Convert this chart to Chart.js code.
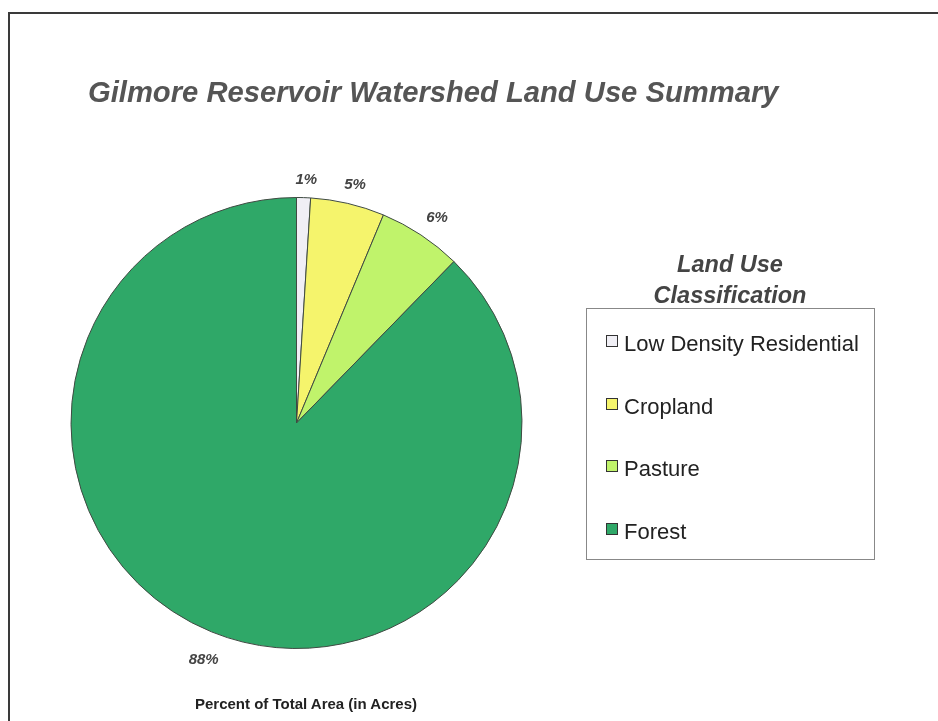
<!DOCTYPE html>
<html>
<head>
<meta charset="utf-8">
<title>Gilmore Reservoir Watershed Land Use Summary</title>
<script src="https://cdn.jsdelivr.net/npm/chart.js@4/dist/chart.umd.min.js"></script>
<style>
  html, body { margin: 0; padding: 0; background: #fff; }
  body { width: 938px; height: 721px; position: relative; overflow: hidden; font-family: "Liberation Sans", Arial, sans-serif; }
  #frame { position: absolute; left: 8px; top: 12px; width: 940px; height: 720px; border-top: 2px solid #3a3a3a; border-left: 2px solid #3a3a3a; }
  #chart_wrap { position: absolute; left: 0; top: 0; width: 938px; height: 721px; }
  #title { position: absolute; left: 88px; top: 76px; font-size: 29.2px; font-weight: bold; font-style: italic; color: #555; white-space: nowrap; }
  #legend_title { position: absolute; left: 600px; top: 249px; width: 260px; text-align: center; font-size: 23.5px; font-weight: bold; font-style: italic; color: #444; line-height: 31px; }
  #legend { position: absolute; left: 586px; top: 308px; width: 289px; height: 252px; border: 1px solid #888; box-sizing: border-box; }
  .item { position: absolute; left: 19px; font-size: 22px; color: #222; white-space: nowrap; }
  .item span.box { display: inline-block; width: 10px; height: 10px; border: 1.5px solid #333; margin-right: 6px; vertical-align: 4px; }
  #subtitle { position: absolute; left: 0; width: 612px; top: 695px; text-align: center; font-size: 15px; font-weight: bold; color: #222; }
</style>
</head>
<body>
<div id="frame"></div>
<div id="chart_wrap"><canvas id="chart_landuse" width="938" height="721"></canvas></div>
<div id="title">Gilmore Reservoir Watershed Land Use Summary</div>
<div id="legend_title">Land Use<br>Classification</div>
<div id="legend"></div>
<div id="subtitle">Percent of Total Area (in Acres)</div>
<script>
const categories = ["Low Density Residential", "Cropland", "Pasture", "Forest"];
const percentages = [1.0, 5.3, 6.0, 87.7];
const sliceColors = ["#f0eff5", "#f5f46c", "#c0f36b", "#2fa868"];
const legendRows = [344, 407, 469, 532];

// legend box next to the pie
const legendEl = document.getElementById("legend");
categories.forEach(function (name, i) {
  const row = document.createElement("div");
  row.className = "item";
  row.style.top = (legendRows[i] - 308 - 14) + "px";
  row.innerHTML = '<span class="box" style="background:' + sliceColors[i] + '"></span>' + name;
  legendEl.appendChild(row);
});

// percent labels just outside each slice, pushed out by the half-size of the text box
const outsideLabels = {
  id: "outsideLabels",
  afterDatasetsDraw(chart) {
    const ctx = chart.ctx;
    const meta = chart.getDatasetMeta(0);
    ctx.save();
    ctx.font = "italic bold 15px 'Liberation Sans', Arial, sans-serif";
    ctx.fillStyle = "#444";
    ctx.textAlign = "center";
    ctx.textBaseline = "middle";
    meta.data.forEach(function (arc, i) {
      const text = Math.round(percentages[i]) + "%";
      const w = ctx.measureText(text).width;
      const mid = (arc.startAngle + arc.endAngle) / 2;
      const cx = Math.cos(mid), sy = Math.sin(mid);
      const ext = Math.abs(cx) * w / 2 + Math.abs(sy) * 8;
      const r = arc.outerRadius + 13 + ext;
      ctx.fillText(text, arc.x + cx * r + 2, arc.y + sy * r + 4);
    });
    ctx.restore();
  }
};

const data = {
  labels: categories,
  datasets: [{
    data: percentages,
    backgroundColor: sliceColors,
    borderColor: "#3f4a42",
    borderWidth: 1
  }]
};

const config = {
  type: "pie",
  data,
  options: {
    responsive: false,
    animation: false,
    layout: { padding: { left: 70, right: 415, top: 197, bottom: 72 } },
    plugins: {
      legend: { display: false },
      tooltip: { enabled: false }
    }
  },
  plugins: [outsideLabels]
};

var myChart = new Chart(document.getElementById("chart_landuse"), config);
</script>
</body>
</html>
